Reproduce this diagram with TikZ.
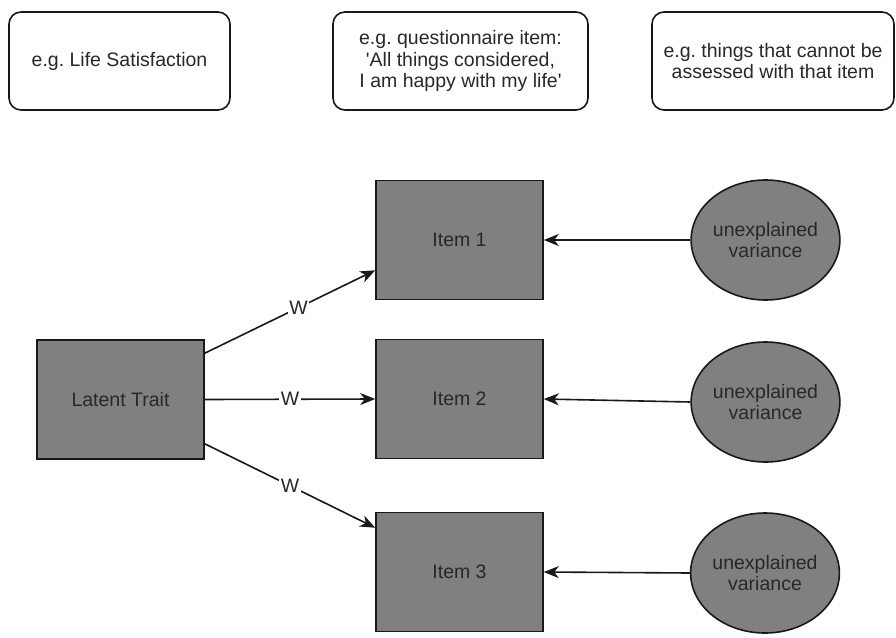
\documentclass[tikz,border=0pt]{standalone}
\usepackage{fontspec}
\setmainfont{Liberation Sans}
\usetikzlibrary{arrows.meta,shapes.geometric}
\definecolor{boxgray}{RGB}{128,128,128}
\definecolor{txt}{RGB}{40,40,40}
\definecolor{edge}{RGB}{25,25,25}
\frenchspacing
\begin{document}
\begin{tikzpicture}[x=1pt,y=-1pt,
  every node/.style={font=\fontsize{19.5}{21.5}\selectfont, text=txt, inner sep=0pt},
  note/.style={draw=edge, line width=1.6pt, rounded corners=12pt, align=center, minimum height=98pt},
  itembox/.style={draw=edge, fill=boxgray, line width=1.6pt, minimum width=167pt, minimum height=119pt},
  resid/.style={ellipse, draw=edge, fill=boxgray, line width=1.6pt, minimum width=141pt, minimum height=120pt, align=center},
  link/.style={draw=edge, line width=1.6pt, -{Stealth[length=15pt,width=12pt,inset=4.5pt]}},
  wlab/.style={fill=white, inner sep=1.5pt}]
\useasboundingbox (0,0) rectangle (896,637);

% explanatory notes
\node[note, minimum width=221pt] (n1) at (119.5,61) {e.g. Life Satisfaction};
\node[note, minimum width=255pt] (n2) at (460.5,61) {e.g. questionnaire item:\\\textquotesingle All things considered,\\I am happy with my life\textquotesingle};
\node[note, minimum width=242pt] (n3) at (773,61) {e.g. things that cannot be\\assessed with that item};

% measurement model
\node[itembox] (lt) at (120.5,399.5) {Latent Trait};
\node[itembox] (i1) at (459.5,240) {Item 1};
\node[itembox] (i2) at (459.5,399) {Item 2};
\node[itembox] (i3) at (459.5,572) {Item 3};

\node[resid] (e1) at (765.5,240) {unexplained\\variance};
\node[resid] (e2) at (765.5,402) {unexplained\\variance};
\node[resid] (e3) at (765,573) {unexplained\\variance};

% loadings
\draw[link] ([yshift=-14pt]lt.north east) -- node[wlab,pos=0.55]{W} ([yshift=30pt]i1.south west);
\draw[link] (lt.east) -- node[wlab,pos=0.5]{W} (i2.west);
\draw[link] ([yshift=16pt]lt.south east) -- node[wlab,pos=0.5]{W} ([yshift=-16pt]i3.north west);

% residual terms
\draw[link] (e1.west) -- (i1.east);
\draw[link] (e2.west) -- (i2.east);
\draw[link] (e3.west) -- (i3.east);
\end{tikzpicture}
\end{document}
